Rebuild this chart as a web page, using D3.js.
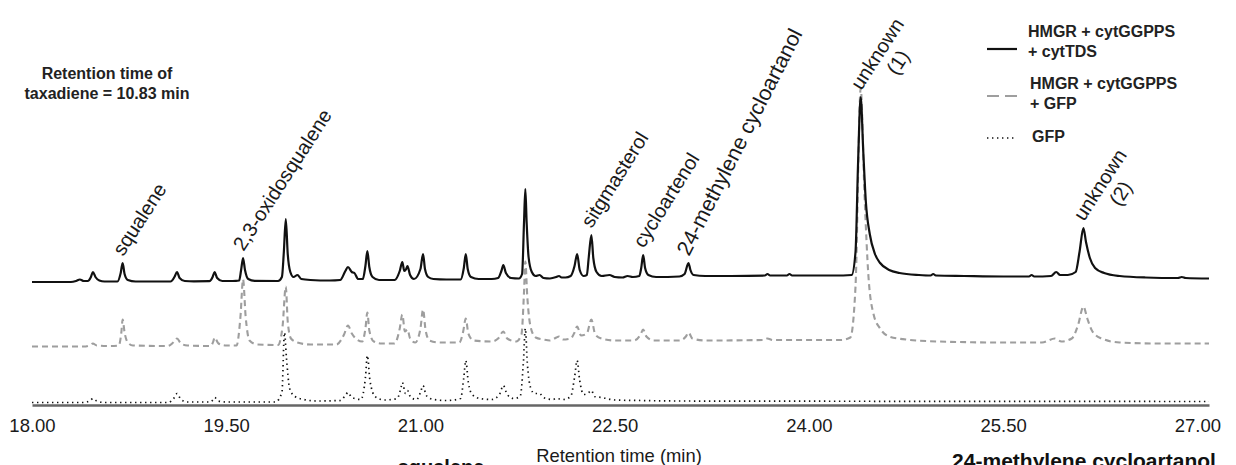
<!DOCTYPE html>
<html><head><meta charset="utf-8">
<script src="https://cdn.jsdelivr.net/npm/d3@7"></script>
<style>
html,body{margin:0;padding:0;background:#fff;}
svg{display:block;font-family:"Liberation Sans", Arial, Helvetica, sans-serif;}
</style></head><body>
<svg id="chart" width="1236" height="465"></svg>
<script>
// ---------------- DATA ----------------
const xTicks = [18.00, 19.50, 21.00, 22.50, 24.00, 25.50, 27.00];
const xTitle = "Retention time (min)";
const seriesNames = [["HMGR + cytGGPPS", "+ cytTDS"], ["HMGR + cytGGPPS", "+ GFP"], ["GFP"]];
const noteLines = ["Retention time of", "taxadiene = 10.83 min"];

// [retention time (min), signal] for HMGR + cytGGPPS + cytTDS
const traceTDS = [[18.00,0],[18.30,0],[18.34,1],[18.37,2.5],[18.40,1],[18.43,1],[18.455,5],[18.47,10],[18.49,5],[18.52,1.5],[18.56,0.5],
[18.66,0.5],[18.685,9],[18.70,19],[18.715,8],[18.74,2],[18.80,0.5],
[19.07,0.5],[19.10,5],[19.12,10],[19.14,4],[19.18,1],[19.25,0.7],
[19.37,0.8],[19.395,5],[19.41,10],[19.43,4],[19.47,1],[19.55,1],
[19.60,1.5],[19.615,12],[19.63,24],[19.645,12],[19.67,3],[19.72,1.2],[19.90,1],[19.93,5],[19.945,30],[19.96,63],[19.975,28],[19.995,10],[20.02,5],[20.05,7],[20.08,3],[20.15,2],[20.30,1.5],
[20.38,2],[20.42,11],[20.44,15],[20.47,10],[20.49,9],[20.52,3],[20.555,3],[20.575,16],[20.59,31],[20.605,15],[20.63,5],[20.68,2],[20.80,2],
[20.84,11],[20.86,20],[20.875,11],[20.89,13],[20.90,16],[20.92,7],[20.95,3],[21.00,13],[21.02,28],[21.035,13],[21.06,5],[21.10,3],[21.20,2.5],[21.31,2.5],[21.335,14],[21.35,28],[21.365,13],[21.39,5],[21.45,3],[21.55,3],
[21.60,4],[21.625,11],[21.64,17],[21.66,9],[21.70,4],[21.76,3.5],[21.785,8],[21.80,60],[21.81,93],[21.82,60],[21.835,25],[21.86,10],[21.89,6],[21.92,7],[21.95,4],[22.00,3.5],[22.05,5],[22.07,6],[22.09,4.5],[22.12,4.5],[22.16,6],[22.19,16],[22.21,28],[22.23,12],[22.26,6],[22.285,7],[22.30,25],[22.32,47],[22.335,24],[22.36,10],[22.40,6],[22.46,7],[22.50,5],[22.56,4.5],[22.60,6],[22.64,5],[22.69,6],[22.705,14],[22.72,27],[22.735,14],[22.76,7],[22.82,5],
[23.00,5.5],[23.04,8],[23.07,19],[23.085,12],[23.11,7],[23.20,6],[23.40,6],[23.66,6.5],[23.68,8],[23.70,6.5],[23.83,6.5],[23.85,8],[23.87,6.5],[24.20,6.5],[24.33,7],[24.36,30],[24.38,120],[24.40,185],[24.42,130],[24.44,80],[24.47,48],[24.51,28],[24.55,19],[24.62,12],[24.70,9],[24.85,7],[24.94,6.5],[24.96,8],[24.98,6.5],[25.20,6],[25.50,5.5],[25.70,5.5],[25.72,7],[25.74,5.5],[25.87,6],[25.91,10],[25.94,7],[26.00,7],[26.06,10],[26.09,30],[26.12,54],[26.14,40],[26.17,24],[26.21,14],[26.28,9],[26.40,6],[26.60,4.5],[26.85,4],[26.88,5],[26.91,4],[27.09,3.5]];

// HMGR + cytGGPPS + GFP
const traceGGPPS = [[18.00,0],[18.40,0],[18.45,1.5],[18.47,3],[18.50,1],[18.60,0.5],[18.67,1],[18.69,14],[18.70,27],[18.715,14],[18.74,4],[18.78,1],[19.05,0.5],[19.09,4],[19.12,8],[19.15,3],[19.20,1],[19.38,0.5],[19.40,5],[19.41,9],[19.44,3],[19.50,1],[19.58,1],[19.61,30],[19.63,67],[19.65,30],[19.68,6],[19.74,2],[19.90,1.5],[19.935,20],[19.96,60],[19.975,25],[20.00,8],[20.05,4],[20.15,2],[20.35,2],[20.41,12],[20.44,21],[20.47,13],[20.50,8],[20.55,5],[20.575,18],[20.59,34],[20.605,16],[20.64,5],[20.70,3],[20.80,3],[20.84,18],[20.86,32],[20.88,15],[20.90,17],[20.92,8],[20.96,4],[21.00,18],[21.02,37],[21.04,16],[21.07,6],[21.15,4],[21.30,4],[21.33,15],[21.35,28],[21.37,13],[21.41,6],[21.55,5],[21.60,8],[21.64,15],[21.67,8],[21.74,5],[21.78,12],[21.80,55],[21.81,85],[21.825,50],[21.85,20],[21.89,9],[21.95,7],[22.00,6],[22.05,9],[22.07,10],[22.10,7],[22.16,8],[22.19,14],[22.21,20],[22.24,11],[22.285,13],[22.32,27],[22.35,12],[22.40,8],[22.50,6],[22.65,6],[22.70,12],[22.72,17],[22.745,10],[22.80,6],[23.00,6],[23.05,10],[23.07,14],[23.10,8],[23.20,6],[23.65,6.5],[23.68,8],[23.72,6.5],[24.25,6.5],[24.32,9],[24.36,60],[24.40,258],[24.43,150],[24.46,70],[24.50,32],[24.55,18],[24.62,10],[24.75,7],[25.00,5],[25.50,4],[25.80,4],[25.90,8],[25.95,5],[26.03,8],[26.08,22],[26.12,40],[26.15,28],[26.19,15],[26.26,8],[26.40,4],[26.70,3],[27.09,3]];

// GFP
const traceGFP = [[18.00,0],[18.40,0],[18.45,2],[18.47,4],[18.50,1.5],[18.56,0],[19.05,0],[19.10,5],[19.12,9],[19.15,3],[19.20,0.5],[19.37,0.5],[19.40,3],[19.41,5],[19.44,1.5],[19.50,0.5],[19.88,0.5],[19.93,10],[19.95,70],[19.965,45],[19.99,14],[20.03,6],[20.10,3],[20.20,1.5],[20.38,2],[20.42,7],[20.44,10],[20.47,5],[20.54,3],[20.575,25],[20.59,47],[20.61,22],[20.65,6],[20.72,2.5],[20.82,4],[20.85,15],[20.86,20],[20.885,9],[20.90,12],[20.925,5],[20.97,3],[21.00,10],[21.02,17],[21.045,7],[21.10,3],[21.20,2],[21.31,4],[21.335,25],[21.35,42],[21.37,20],[21.40,8],[21.46,4],[21.55,3],[21.61,8],[21.64,17],[21.67,8],[21.72,4],[21.77,6],[21.795,40],[21.81,74],[21.825,40],[21.85,15],[21.88,9],[21.92,9],[21.95,5],[22.02,3],[22.05,4],[22.10,3],[22.16,6],[22.19,25],[22.21,42],[22.23,22],[22.26,8],[22.30,10],[22.32,12],[22.345,6],[22.40,5],[22.50,2.5],[22.70,2],[23.00,1.5],[27.09,1]];

// peak annotations: [label line 1, label line 2, retention time, signal at apex]
const peakLabels = [["squalene", "", 18.70, 19], ["2,3-oxidosqualene", "", 19.63, 24], ["sitgmasterol", "", 22.32, 47],
  ["cycloartenol", "", 22.72, 27], ["24-methylene cycloartanol", "", 23.07, 19], ["unknown", "(1)", 24.40, 185], ["unknown", "(2)", 26.12, 54]];
const structureLabels = ["squalene", "24-methylene cycloartanol"];

// ---------------- LAYOUT ----------------
const svg = d3.select("#chart");
const x = d3.scaleLinear().domain([18, 27.09]).range([32, 1209]);
const baselines = [282, 346.5, 402.5];
const yFor = b => d3.scaleLinear().domain([0, 300]).range([b, b - 300]);
const yScales = baselines.map(yFor);
const traces = [traceTDS, traceGGPPS, traceGFP];
const styles = [
  {stroke: "#111", width: 2.2, dash: null},
  {stroke: "#9e9e9e", width: 2.1, dash: "6,4"},
  {stroke: "#111", width: 1.7, dash: "1.4,3.6"}
];
const labelAngles = [-57, -57, -58, -58, -63, -57, -57];
const labelSizes = [20, 20, 20, 20, 21.5, 20, 20];

// draw GFP first, then gray, then solid on top
[2, 1, 0].forEach(i => {
  const line = d3.line().x(d => x(d[0])).y(d => yScales[i](d[1])).curve(d3.curveMonotoneX);
  svg.append("path").datum(traces[i])
    .attr("d", line).attr("fill", "none")
    .attr("stroke", styles[i].stroke).attr("stroke-width", styles[i].width)
    .attr("stroke-dasharray", styles[i].dash).attr("stroke-linejoin", "round");
});

// axis
const axis = d3.axisBottom(x).tickValues(xTicks).tickFormat(d3.format(".2f")).tickSize(0).tickSizeOuter(0).tickPadding(14);
const ax = svg.append("g").attr("transform", "translate(0,405)").call(axis);
ax.select(".domain").attr("stroke", "#666").attr("stroke-width", 2.4);
ax.selectAll("text").attr("font-size", 18.5).attr("fill", "#1a1a1a").attr("font-family", "Liberation Sans, Arial, sans-serif");

svg.append("text").attr("x", 619).attr("y", 462).attr("text-anchor", "middle")
  .attr("font-size", 18.4).attr("fill", "#1a1a1a").text(xTitle);

// peak labels
peakLabels.forEach((p, k) => {
  const g = svg.append("g")
    .attr("transform", `translate(${x(p[2]) + 0.5},${yScales[0](p[3]) - 6}) rotate(${labelAngles[k]})`);
  const t = g.append("text").attr("x", 0).attr("y", 0).attr("font-size", labelSizes[k]).attr("fill", "#1a1a1a").text(p[0]);
  if (p[1]) {
    const L = t.node().getComputedTextLength();
    g.append("text").attr("x", L / 2 + 4).attr("y", 22).attr("text-anchor", "middle")
      .attr("font-size", labelSizes[k]).attr("fill", "#1a1a1a").text(p[1]);
  }
});

// note
svg.append("text").attr("font-size", 16).attr("font-weight", "bold").attr("fill", "#222").attr("text-anchor", "middle")
  .selectAll("tspan").data(noteLines).join("tspan")
  .attr("x", 107).attr("y", (d, i) => 79 + i * 20).text(d => d);

// legend
const legY = [49, 96, 138];
const legTextY = [[37, 57], [89, 109], [142]];
seriesNames.forEach((names, i) => {
  svg.append("line").attr("x1", 987).attr("x2", 1017).attr("y1", legY[i]).attr("y2", legY[i])
    .attr("stroke", styles[i].stroke).attr("stroke-width", styles[i].width)
    .attr("stroke-dasharray", i === 1 ? "12,6" : styles[i].dash);
  names.forEach((n, j) => {
    svg.append("text").attr("x", i === 0 ? 1028 : (i === 1 ? 1030 : 1032)).attr("y", legTextY[i][j])
      .attr("font-size", 16).attr("font-weight", "bold").attr("fill", "#222").text(n);
  });
});

// structure labels, cut by the bottom edge (as in the source figure)
svg.append("text").attr("x", 441).attr("y", 474).attr("text-anchor", "middle")
  .attr("font-size", 20).attr("font-weight", "bold").attr("fill", "#111").text(structureLabels[0]);
svg.append("text").attr("x", 1084).attr("y", 468).attr("text-anchor", "middle")
  .attr("font-size", 21).attr("font-weight", "bold").attr("fill", "#111").text(structureLabels[1]);
</script>
</body></html>
